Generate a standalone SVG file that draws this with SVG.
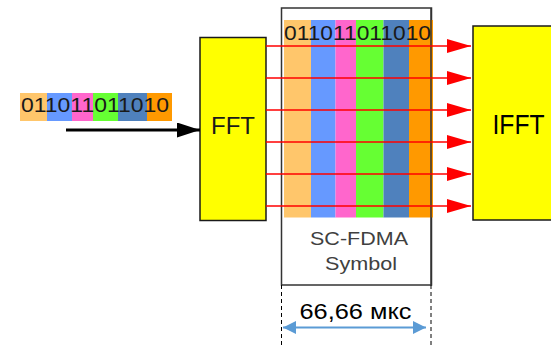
<svg xmlns="http://www.w3.org/2000/svg" width="551" height="348" viewBox="0 0 551 348">
<defs>
<style>
.bits{font-family:"Liberation Sans",Arial,sans-serif;font-size:21px;fill:#1a1a1a}
.blk{fill:#ffff00;stroke:#1a1a1a;stroke-width:1.5}
.lbl{font-family:"Liberation Sans",Arial,sans-serif;fill:#000}
.red{stroke:#ff0000;stroke-width:1.6;fill:none}
.dash{stroke:#000;stroke-width:1;stroke-dasharray:4,3}
</style>
<marker id="ra" markerWidth="25" markerHeight="15" refX="24" refY="7" orient="auto" markerUnits="userSpaceOnUse">
<path d="M0,0 L24,7 L0,14 Z" fill="#ff0000"/>
</marker>
<marker id="ka" markerWidth="24" markerHeight="16" refX="23" refY="7.5" orient="auto" markerUnits="userSpaceOnUse">
<path d="M0,0 L23,7.5 L0,15 Z" fill="#000"/>
</marker>
<marker id="ba" markerWidth="14" markerHeight="14" refX="13" refY="6.5" orient="auto-start-reverse" markerUnits="userSpaceOnUse">
<path d="M0,0 L13,6.5 L0,13 Z" fill="#5b9bd5"/>
</marker>
</defs>

<g id="input-bits">
<rect x="20" y="93" width="27" height="28" fill="#ffc66b"/>
<rect x="47" y="93" width="25" height="28" fill="#6699ff"/>
<rect x="72" y="93" width="21" height="28" fill="#ff66cc"/>
<rect x="93" y="93" width="25" height="28" fill="#66ff33"/>
<rect x="118" y="93" width="29" height="28" fill="#4f81bd"/>
<rect x="147" y="93" width="25" height="28" fill="#ff9900"/>
<text class="bits" x="21" y="112" textLength="148" lengthAdjust="spacingAndGlyphs">011011011010</text>
</g>

<g id="symbol">
<rect x="281.5" y="8" width="150" height="277" fill="#fff" stroke="#333" stroke-width="1.5"/>
<rect x="284" y="20" width="27" height="197.5" fill="#ffc66b"/>
<rect x="311" y="20" width="24.5" height="197.5" fill="#6699ff"/>
<rect x="335.5" y="20" width="20.5" height="197.5" fill="#ff66cc"/>
<rect x="356" y="20" width="27.5" height="197.5" fill="#66ff33"/>
<rect x="383.5" y="20" width="25.5" height="197.5" fill="#4f81bd"/>
<rect x="409" y="20" width="24" height="197.5" fill="#ff9900"/>
<line x1="431" y1="8" x2="431" y2="285" stroke="#333" stroke-width="1.5"/>
<text class="bits" x="284" y="40" textLength="147" lengthAdjust="spacingAndGlyphs">011011011010</text>
<text class="lbl" x="359" y="245" font-size="19" text-anchor="middle" textLength="98" lengthAdjust="spacingAndGlyphs" style="fill:#404040">SC-FDMA</text>
<text class="lbl" x="361" y="270" font-size="19" text-anchor="middle" textLength="72" lengthAdjust="spacingAndGlyphs" style="fill:#404040">Symbol</text>
</g>

<g id="fft">
<rect class="blk" x="200" y="37.5" width="66" height="183"/>
<text class="lbl" x="233" y="134" font-size="24" text-anchor="middle" style="fill:#1a1a1a">FFT</text>
</g>

<g id="ifft">
<rect class="blk" x="473" y="26" width="85" height="194"/>
<text class="lbl" x="518.5" y="134" font-size="28" text-anchor="middle" textLength="52" lengthAdjust="spacingAndGlyphs">IFFT</text>
</g>

<g id="connectors">
<line x1="66" y1="130" x2="200" y2="130" stroke="#000" stroke-width="3" marker-end="url(#ka)"/>
<line class="red" x1="266" y1="46" x2="471" y2="46" marker-end="url(#ra)"/>
<line class="red" x1="266" y1="78" x2="471" y2="78" marker-end="url(#ra)"/>
<line class="red" x1="266" y1="110" x2="471" y2="110" marker-end="url(#ra)"/>
<line class="red" x1="266" y1="142" x2="471" y2="142" marker-end="url(#ra)"/>
<line class="red" x1="266" y1="174" x2="471" y2="174" marker-end="url(#ra)"/>
<line class="red" x1="266" y1="206" x2="471" y2="206" marker-end="url(#ra)"/>
<line class="dash" x1="281.5" y1="285" x2="281.5" y2="348"/>
<line class="dash" x1="431" y1="285" x2="431" y2="348"/>
<line x1="283" y1="327.5" x2="426" y2="327.5" stroke="#5b9bd5" stroke-width="2" marker-start="url(#ba)" marker-end="url(#ba)"/>
</g>

<g id="duration">
<text class="lbl" x="355.5" y="319" font-size="22" text-anchor="middle" textLength="112" lengthAdjust="spacingAndGlyphs">66,66 мкс</text>
</g>
</svg>
